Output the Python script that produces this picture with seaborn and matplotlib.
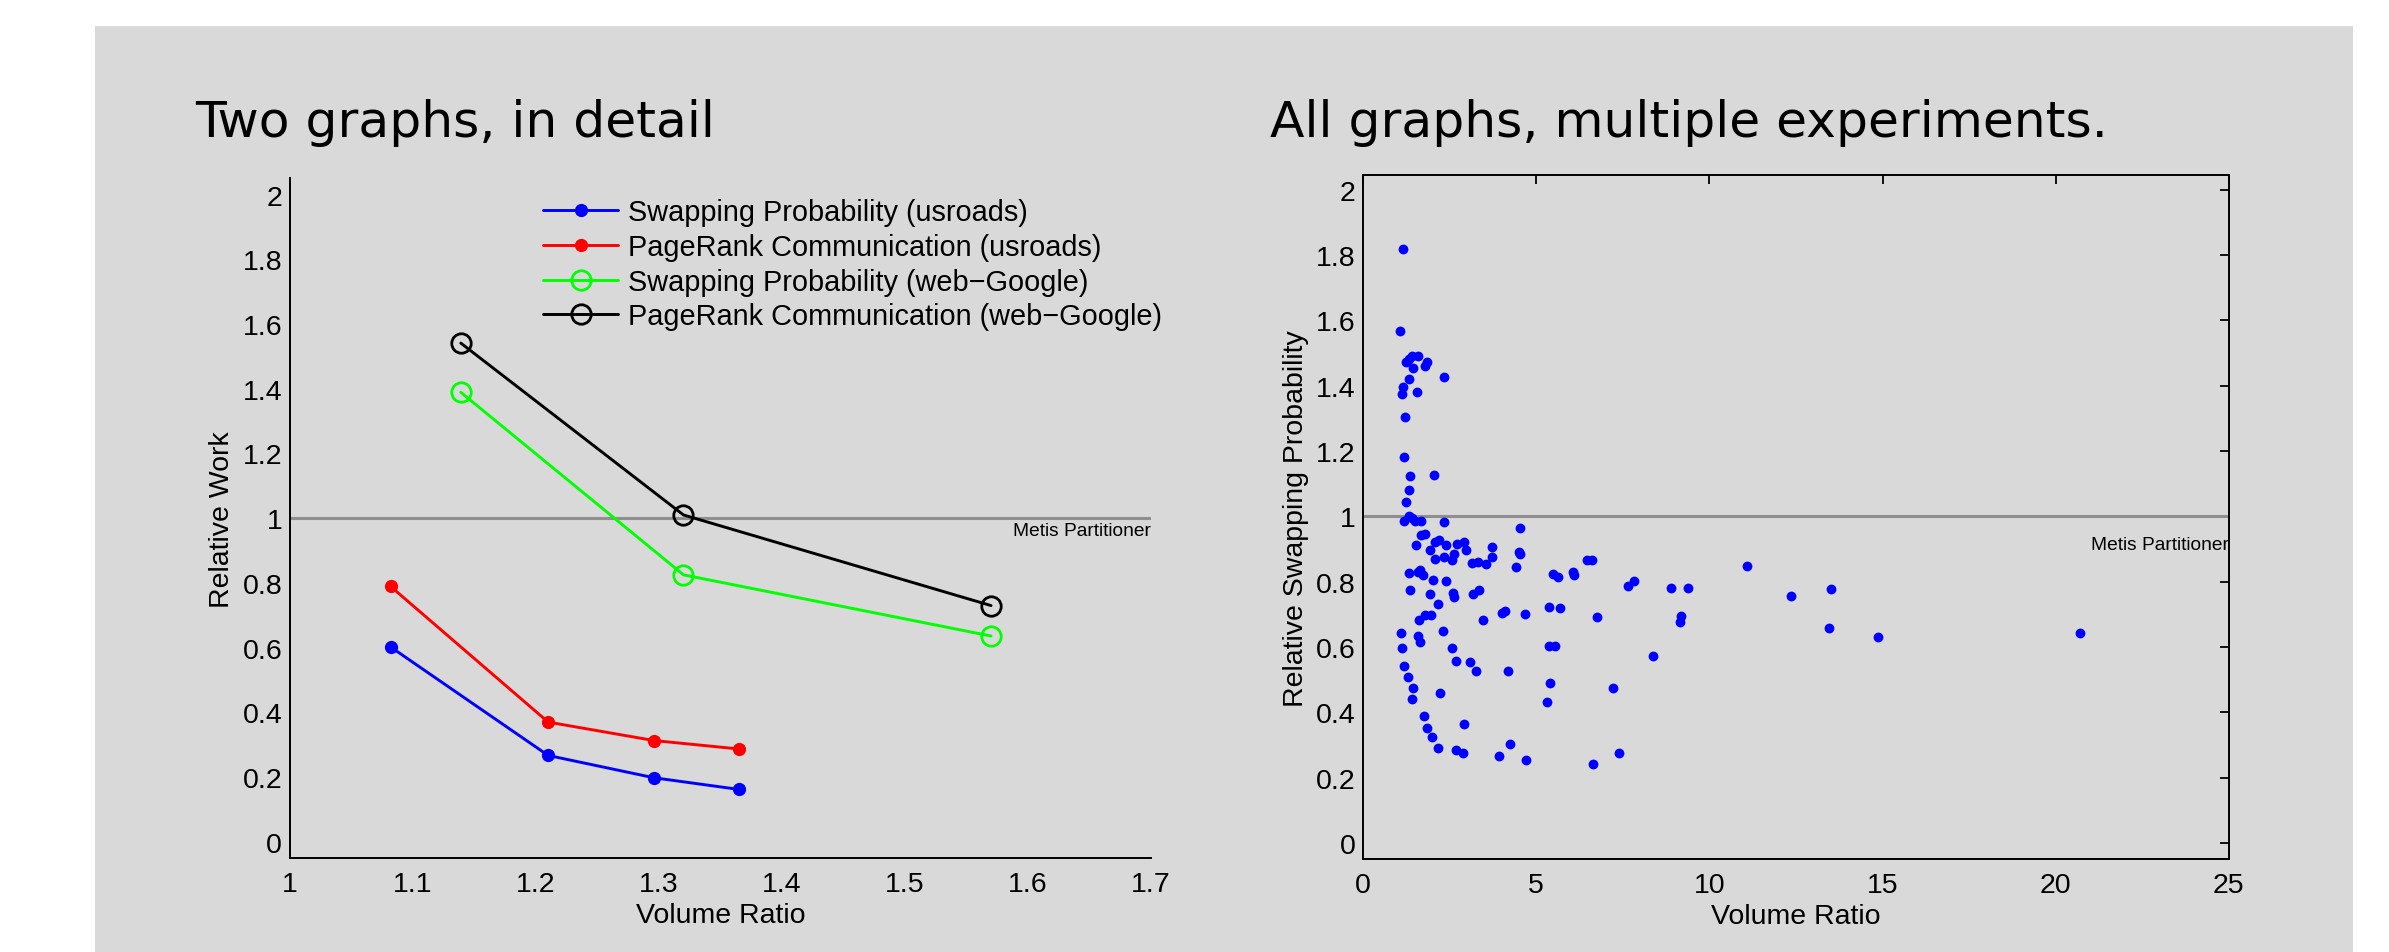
import matplotlib
matplotlib.use("Agg")
import matplotlib.pyplot as plt
import seaborn as sns
from matplotlib.patches import Rectangle
from matplotlib.ticker import FormatStrFormatter

# left panel: two graphs in detail
ratio_usroads = [1.082, 1.210, 1.296, 1.365]
swap_usroads = [0.602, 0.267, 0.198, 0.162]
pagerank_usroads = [0.789, 0.370, 0.313, 0.287]
ratio_google = [1.139, 1.320, 1.570]
swap_google = [1.389, 0.825, 0.636]
pagerank_google = [1.541, 1.010, 0.730]

series_labels = ["Swapping Probability (usroads)",
                 "PageRank Communication (usroads)",
                 "Swapping Probability (web\u2212Google)",
                 "PageRank Communication (web\u2212Google)"]

# right panel: all graphs, multiple experiments
vol_ratio = [1.143, 1.076, 1.24, 1.336, 1.413, 1.585, 1.432, 1.797, 1.855, 1.326,
             2.345, 1.143, 1.114, 1.547, 1.22, 1.19, 1.355, 2.056, 1.326, 1.24,
             1.317, 1.172, 1.413, 1.509, 1.682, 2.354, 4.537, 1.682, 1.797, 1.537,
             1.922, 2.067, 2.19, 2.403, 2.73, 2.912, 2.979, 3.739, 4.518, 4.537,
             2.067, 2.345, 2.585, 2.643, 3.739, 3.153, 3.316, 3.557, 4.42, 6.461,
             6.605, 6.075, 6.094, 5.499, 5.643, 11.076, 1.336, 1.653, 1.585, 1.73,
             2.027, 2.403, 1.345, 1.922, 2.614, 2.643, 3.172, 3.364, 2.181, 7.644,
             7.827, 8.884, 9.374, 12.354, 13.517, 13.469, 9.17, 9.16, 6.75, 5.364,
             5.691, 4.028, 4.105, 4.691, 3.479, 1.605, 1.778, 1.961, 1.105, 1.124,
             1.576, 1.653, 2.307, 2.585, 2.691, 3.095, 3.259, 4.191, 5.374, 5.547,
             5.393, 5.306, 8.365, 7.228, 1.172, 1.307, 1.432, 1.403, 2.211, 1.749,
             1.845, 2.931, 2.008, 2.172, 2.691, 2.883, 3.922, 4.239, 4.72, 6.643,
             7.382, 14.863, 20.709]
rel_swap = [1.818, 1.566, 1.471, 1.481, 1.491, 1.492, 1.453, 1.461, 1.474, 1.419,
            1.427, 1.395, 1.374, 1.382, 1.303, 1.183, 1.124, 1.128, 1.080, 1.043,
            1.002, 0.985, 0.994, 0.985, 0.985, 0.982, 0.964, 0.943, 0.946, 0.912,
            0.898, 0.920, 0.928, 0.912, 0.915, 0.920, 0.898, 0.907, 0.892, 0.884,
            0.869, 0.874, 0.866, 0.885, 0.874, 0.857, 0.859, 0.854, 0.844, 0.867,
            0.867, 0.831, 0.820, 0.822, 0.815, 0.848, 0.825, 0.837, 0.831, 0.820,
            0.806, 0.801, 0.775, 0.762, 0.764, 0.752, 0.762, 0.775, 0.731, 0.788,
            0.803, 0.780, 0.780, 0.757, 0.777, 0.657, 0.696, 0.675, 0.693, 0.721,
            0.718, 0.704, 0.711, 0.700, 0.684, 0.683, 0.698, 0.699, 0.643, 0.597,
            0.635, 0.616, 0.650, 0.598, 0.558, 0.555, 0.526, 0.526, 0.602, 0.602,
            0.490, 0.433, 0.571, 0.475, 0.543, 0.509, 0.474, 0.441, 0.458, 0.388,
            0.353, 0.365, 0.323, 0.291, 0.286, 0.275, 0.267, 0.303, 0.254, 0.242,
            0.275, 0.632, 0.643]

left_xticks = [1, 1.1, 1.2, 1.3, 1.4, 1.5, 1.6, 1.7]
right_xticks = [0, 5, 10, 15, 20, 25]
yticks = [0, 0.2, 0.4, 0.6, 0.8, 1, 1.2, 1.4, 1.6, 1.8, 2]

PANEL = "#d9d9d9"
REF = "#8f8f8f"

sns.set_style("white")
plt.rcParams["font.family"] = ["Liberation Sans", "DejaVu Sans"]
plt.rcParams["text.color"] = "black"
plt.rcParams["axes.labelcolor"] = "black"

fig = plt.figure(figsize=(23.89, 9.53), dpi=100, facecolor="white")
fig.add_artist(Rectangle((95 / 2389, 0), (2353 - 95) / 2389, (953 - 27) / 953,
                         transform=fig.transFigure, facecolor=PANEL,
                         edgecolor="none", zorder=-5))

ax1 = fig.add_axes([0.1213, 0.0986, 0.3605, 0.7132])
ax2 = fig.add_axes([0.5705, 0.0973, 0.3625, 0.718])

# ---- left: two graphs ----
ax1.axhline(1, color=REF, lw=2.2, zorder=1)
sns.lineplot(x=ratio_usroads, y=swap_usroads, ax=ax1, color="blue", lw=2.1,
             marker="o", markersize=8.5, markeredgecolor="blue", mew=1,
             label=series_labels[0])
sns.lineplot(x=ratio_usroads, y=pagerank_usroads, ax=ax1, color="red", lw=2.1,
             marker="o", markersize=8.5, markeredgecolor="red", mew=1,
             label=series_labels[1])
sns.lineplot(x=ratio_google, y=swap_google, ax=ax1, color="lime", lw=2.1,
             marker="o", markersize=14, markerfacecolor="none",
             markeredgecolor="lime", mew=2, label=series_labels[2])
sns.lineplot(x=ratio_google, y=pagerank_google, ax=ax1, color="black", lw=2.1,
             marker="o", markersize=14, markerfacecolor="none",
             markeredgecolor="black", mew=2, label=series_labels[3])
ax1.text(1.7, 0.962, "Metis Partitioner", ha="right", va="center", fontsize=13.8)

ax1.legend(loc="upper left", bbox_to_anchor=(1.206, 1.988),
           bbox_transform=ax1.transData, frameon=False, fontsize=20.75,
           handlelength=2.6, handletextpad=0.35, labelspacing=0.23,
           borderpad=0, borderaxespad=0)

ax1.set_xlim(1, 1.7)
ax1.set_ylim(-0.05, 2.05)
ax1.set_xticks(left_xticks)
ax1.set_yticks(yticks)
ax1.spines["top"].set_visible(False)
ax1.spines["right"].set_visible(False)
ax1.set_xlabel("Volume Ratio", fontsize=20.5, labelpad=4)
ax1.set_ylabel("Relative Work", fontsize=20.5, labelpad=5)

# ---- right: all graphs ----
ax2.axhline(1, color=REF, lw=2.2, zorder=1)
sns.scatterplot(x=vol_ratio, y=rel_swap, ax=ax2, color="blue", s=50,
                linewidth=0, zorder=3)
ax2.text(25, 0.915, "Metis Partitioner", ha="right", va="center", fontsize=13.8)
ax2.set_xlim(0, 25)
ax2.set_ylim(-0.05, 2.045)
ax2.set_xticks(right_xticks)
ax2.set_yticks(yticks)
ax2.tick_params(top=True, right=True)
ax2.set_xlabel("Volume Ratio", fontsize=20.5, labelpad=4)
ax2.set_ylabel("Relative Swapping Probability", fontsize=20.5, labelpad=5)

for ax in (ax1, ax2):
    ax.set_facecolor("none")
    ax.xaxis.set_major_formatter(FormatStrFormatter("%g"))
    ax.yaxis.set_major_formatter(FormatStrFormatter("%g"))
    ax.tick_params(axis="both", direction="in", length=6.5, width=1.3,
                   labelsize=20.5, colors="black")
    ax.tick_params(axis="y", pad=5.5)
    ax.tick_params(axis="x", pad=9)
    for sp in ax.spines.values():
        sp.set_linewidth(1.4)
        sp.set_color("black")

fig.text(195 / 2389, 1 - 137 / 953, "Two graphs, in detail", fontsize=36.3,
         family="DejaVu Sans", va="baseline", ha="left")
fig.text(1270 / 2389, 1 - 137 / 953, "All graphs, multiple experiments.",
         fontsize=36.3, family="DejaVu Sans", va="baseline", ha="left")

fig.savefig("out.png", dpi=100, facecolor="white")
